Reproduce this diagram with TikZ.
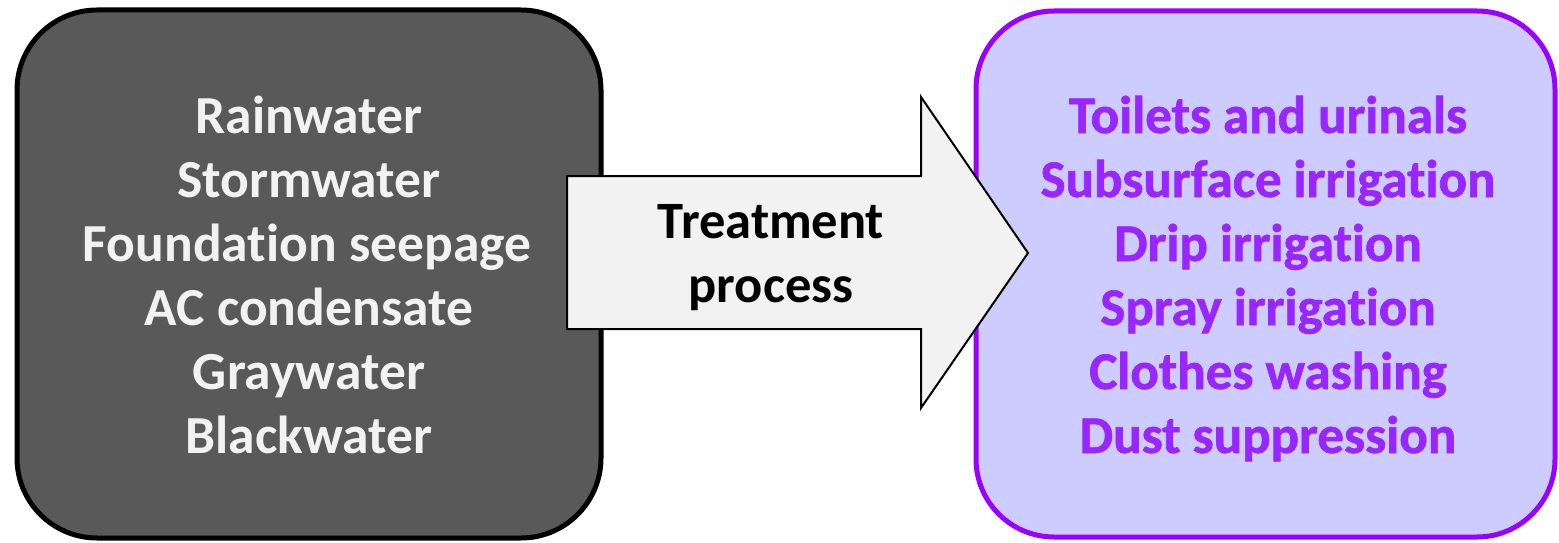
\documentclass[tikz,border=0pt]{standalone}
\usepackage{fontspec}
\setmainfont{Carlito}[Ligatures=NoCommon]
\newfontfamily\purplefont{Carlito Bold}[Ligatures=NoCommon, FakeBold=1.2]
\definecolor{srcfill}{HTML}{595959}
\definecolor{srctext}{HTML}{F2F2F2}
\definecolor{usefill}{HTML}{CCCCFF}
\definecolor{useborder}{HTML}{9900FF}
\definecolor{usetext}{HTML}{9926FF}
\definecolor{arrowfill}{HTML}{F2F2F2}
\begin{document}
\begin{tikzpicture}[x=1pt,y=-1pt,
  srcbox/.style={draw=black, line width=5pt, fill=srcfill, rounded corners=80pt,
    minimum width=584pt, minimum height=528pt, inner sep=0pt},
  usebox/.style={draw=useborder, line width=5pt, fill=usefill, rounded corners=78pt,
    minimum width=579pt, minimum height=526pt, inner sep=0pt},
  srclabel/.style={anchor=base, inner sep=0pt, text=srctext, font=\bfseries\fontsize{53.5}{64}\selectfont},
  uselabel/.style={anchor=base, inner sep=0pt, text=usetext, font=\purplefont\fontsize{53}{64}\selectfont},
  arrlabel/.style={anchor=base, inner sep=0pt, text=black, font=\bfseries\fontsize{52.5}{64}\selectfont},
  bigarrow/.style={draw=black, line width=2pt, fill=arrowfill, line join=miter}
]
\useasboundingbox (0,0) rectangle (1559,543);
\node[srcbox] (src) at (309,274) {};
\node[usebox] (use) at (1265.5,274) {};
\coordinate (a1) at (567,176);
\coordinate (a2) at (921,176);
\coordinate (a3) at (921,97);
\coordinate (a4) at (1028,253);
\coordinate (a5) at (921,408);
\coordinate (a6) at (921,329);
\coordinate (a7) at (567,329);
\draw[bigarrow] (a1) -- (a2) -- (a3) -- (a4) -- (a5) -- (a6) -- (a7) -- cycle;
\node[arrlabel] (t1) at (771,238) {Treatment};
\node[arrlabel] (t2) at (771,302) {process};
\node[srclabel] (s1) at (309,133) {Rainwater};
\node[srclabel] (s2) at (309,197) {Stormwater};
\node[srclabel] (s3) at (307,261) {Foundation seepage};
\node[srclabel] (s4) at (309,325) {AC condensate};
\node[srclabel] (s5) at (309,389) {Graywater};
\node[srclabel] (s6) at (309,453) {Blackwater};
\node[uselabel] (u1) at (1268,133) {Toilets and urinals};
\node[uselabel] (u2) at (1268,197) {Subsurface irrigation};
\node[uselabel] (u3) at (1268,261) {Drip irrigation};
\node[uselabel] (u4) at (1268,325) {Spray irrigation};
\node[uselabel] (u5) at (1268,389) {Clothes washing};
\node[uselabel] (u6) at (1268,453) {Dust suppression};
\end{tikzpicture}
\end{document}
